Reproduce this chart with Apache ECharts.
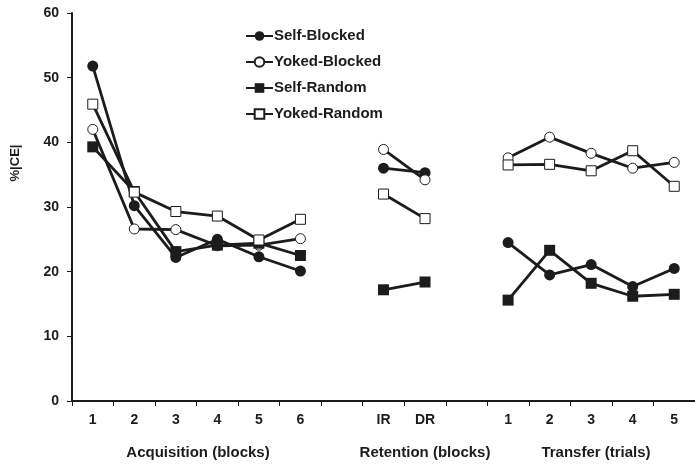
<!DOCTYPE html>
<html>
<head>
<meta charset="utf-8">
<script src="https://cdn.jsdelivr.net/npm/echarts@6/dist/echarts.min.js"></script>
<style>html,body{margin:0;padding:0;background:#fff}#c{width:695px;height:466px}</style>
</head>
<body>
<div id="c"></div>
<script>
var categories = ['1','2','3','4','5','6','','IR','DR','','1','2','3','4','5'];
var yTicks = [0, 10, 20, 30, 40, 50, 60];

var selfBlockedAcq = [51.8, 30.2, 22.2, 25.0, 22.3, 20.1];
var selfBlockedRet = [36.0, 35.3];
var selfBlockedTra = [24.5, 19.5, 21.1, 17.7, 20.5];

var yokedBlockedAcq = [42.0, 26.6, 26.5, 24.0, 24.1, 25.1];
var yokedBlockedRet = [38.9, 34.2];
var yokedBlockedTra = [37.6, 40.8, 38.3, 36.0, 36.9];

var selfRandomAcq = [39.3, 32.4, 23.1, 24.1, 24.4, 22.5];
var selfRandomRet = [17.2, 18.4];
var selfRandomTra = [15.6, 23.3, 18.2, 16.2, 16.5];

var yokedRandomAcq = [45.9, 32.3, 29.3, 28.6, 24.9, 28.1];
var yokedRandomRet = [32.0, 28.2];
var yokedRandomTra = [36.5, 36.6, 35.6, 38.7, 33.2];

function join(a, r, t) { return a.concat([null], r, [null], t); }

var ink = '#1c1c1c';
var FF = 'Liberation Sans, Arial';
function mk(name, data, symbol, open) {
  return {
    name: name, type: 'line', data: data, connectNulls: false,
    symbol: symbol, symbolSize: open ? 10 : 11, showAllSymbol: true,
    lineStyle: { color: ink, width: 2.8 },
    itemStyle: { color: open ? '#ffffff' : ink, borderColor: ink, borderWidth: open ? 1 : 0 },
    emphasis: { disabled: true }, animation: false
  };
}

var chart = echarts.init(document.getElementById('c'));
chart.setOption({
  animation: false,
  backgroundColor: '#ffffff',
  grid: { left: 72, right: -7, top: 13, bottom: 65, containLabel: false },
  legend: {
    orient: 'vertical', left: 240, top: 23, itemWidth: 27, itemHeight: 12, itemGap: 10,
    textStyle: { fontFamily: FF, fontWeight: 'bold', fontSize: 15, lineHeight: 16, color: ink, padding: [0, 0, 0, -4] },
    data: ['Self-Blocked', 'Yoked-Blocked', 'Self-Random', 'Yoked-Random']
  },
  xAxis: {
    type: 'category', data: categories, boundaryGap: true,
    axisLine: { lineStyle: { color: ink, width: 2 } },
    axisTick: { show: true, length: 5, lineStyle: { color: ink, width: 1 }, interval: 0 },
    axisLabel: { interval: 0, margin: 12, fontFamily: FF, fontWeight: 'bold', fontSize: 14, color: ink }
  },
  yAxis: {
    type: 'value', min: 0, max: 60, interval: 10,
    splitLine: { show: false },
    axisLine: { show: true, lineStyle: { color: ink, width: 2 } },
    axisTick: { show: true, length: 5, lineStyle: { color: ink, width: 1 } },
    axisLabel: { margin: 13, fontFamily: FF, fontWeight: 'bold', fontSize: 14, color: ink,
      formatter: function (v) { return yTicks.indexOf(v) >= 0 ? String(v) : ''; } }
  },
  graphic: [
    { type: 'text', x: 198, y: 445, style: { text: 'Acquisition (blocks)', fontFamily: FF, fontWeight: 'bold', fontSize: 15, fill: ink, align: 'center' } },
    { type: 'text', x: 425, y: 445, style: { text: 'Retention (blocks)', fontFamily: FF, fontWeight: 'bold', fontSize: 15, fill: ink, align: 'center' } },
    { type: 'text', x: 596, y: 445, style: { text: 'Transfer (trials)', fontFamily: FF, fontWeight: 'bold', fontSize: 15, fill: ink, align: 'center' } },
    { type: 'text', x: 15, y: 163, rotation: Math.PI / 2, style: { text: '%|CE|', fontFamily: FF, fontWeight: 'bold', fontSize: 13, fill: ink, align: 'center', verticalAlign: 'middle' } }
  ],
  series: [
    mk('Self-Blocked', join(selfBlockedAcq, selfBlockedRet, selfBlockedTra), 'circle', false),
    mk('Yoked-Blocked', join(yokedBlockedAcq, yokedBlockedRet, yokedBlockedTra), 'circle', true),
    mk('Self-Random', join(selfRandomAcq, selfRandomRet, selfRandomTra), 'rect', false),
    mk('Yoked-Random', join(yokedRandomAcq, yokedRandomRet, yokedRandomTra), 'rect', true)
  ]
});
</script>
</body>
</html>
